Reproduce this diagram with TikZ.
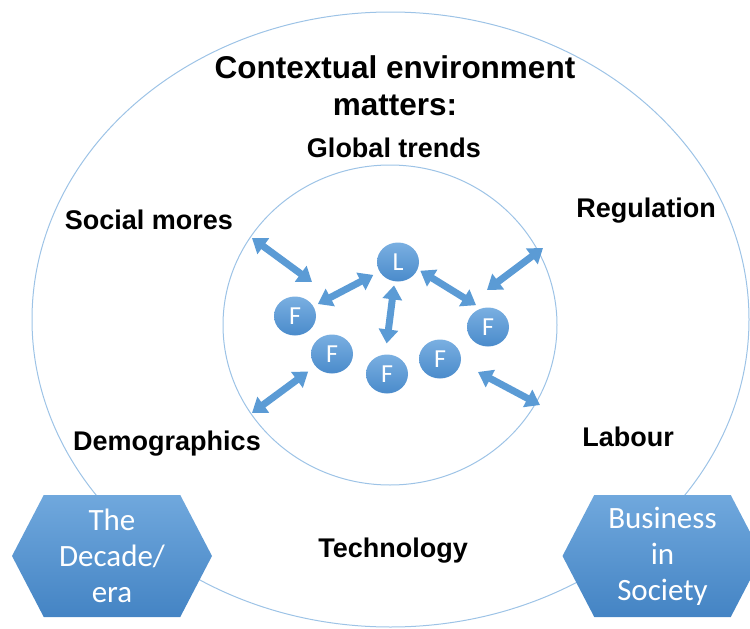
\documentclass[tikz,border=0pt]{standalone}
\usepackage{fontspec}
\setmainfont{Liberation Sans}
\newfontfamily\calfont{Carlito}
\usetikzlibrary{shapes.geometric,shapes.symbols,arrows.meta,positioning}
\definecolor{ringblue}{HTML}{9DC3E6}
\definecolor{linkblue}{HTML}{5B9BD5}
\definecolor{ballhi}{HTML}{7AAFE1}
\definecolor{balllo}{HTML}{4A8BCB}
\definecolor{hexhi}{HTML}{70A8DD}
\definecolor{hexlo}{HTML}{4484C4}

\begin{document}
\begin{tikzpicture}[x=1pt, y=-1pt,
  ring/.style={draw=ringblue, line width=1pt},
  lbl/.style={font=\fontsize{27}{32}\selectfont\bfseries, anchor=base, inner sep=0pt},
  ttl/.style={font=\fontsize{31.5}{37}\selectfont\bfseries, align=center, inner sep=0pt},
  ball/.style={ellipse, minimum width=42pt, minimum height=39pt, inner sep=0pt, top color=ballhi, bottom color=balllo, text=white, font=\calfont\fontsize{26}{28}\selectfont},
  hexa/.style={signal, signal to=east and west, signal pointer angle=125, minimum width=200pt, minimum height=122pt, inner sep=0pt, top color=hexhi, bottom color=hexlo, text=white, align=center, font=\calfont\fontsize{31}{36}\selectfont},
  link/.style={draw=linkblue, line width=7pt, {Triangle[width=19pt,length=14pt]}-{Triangle[width=19pt,length=14pt]}}]
  \clip (0,0) rectangle (750,629);
  \draw[ring] (390.5,319.5) ellipse [x radius=358.5, y radius=307.5];
  \draw[ring] (390,325) ellipse [x radius=167, y radius=160];

  \node[ttl] (title) at (395,86) {Contextual environment\\matters:};
  \node[lbl] (global) at (394,157) {Global trends};
  \node[lbl] (social) at (149,229) {Social mores};
  \node[lbl] (regul) at (646,217) {Regulation};
  \node[lbl] (demog) at (167,450) {Demographics};
  \node[lbl] (labour) at (628,446) {Labour};
  \node[lbl] (techn) at (393,557) {Technology};

  \node[hexa] (decade) at (112,556) {The\\Decade/\\era};
  \node[hexa] (business) at (662.5,556) {Business\\in\\Society};

  \node[ball] (L) at (398,262) {L};
  \node[ball] (F1) at (295,316) {F};
  \node[ball] (F2) at (332,354) {F};
  \node[ball] (F3) at (387,374) {F};
  \node[ball] (F4) at (440,359) {F};
  \node[ball] (F5) at (488,327) {F};

  \coordinate (sm1) at (252,238);
  \coordinate (sm2) at (312,282);
  \coordinate (rg1) at (543,248);
  \coordinate (rg2) at (487,290);
  \coordinate (lb1) at (478,372);
  \coordinate (lb2) at (540,405);
  \coordinate (dm) at (252,413);

  \draw[link] (sm1) -- (sm2);
  \draw[link] (rg1) -- (rg2);
  \draw[link] (lb1) -- (lb2);
  \draw[link, shorten <=9pt] (F2) -- (dm);
  \draw[link, shorten <=7pt, shorten >=5pt] (L) -- (F1);
  \draw[link, shorten <=4pt, shorten >=11pt] (L.-100) -- (F3.95);
  \draw[link, shorten <=3pt, shorten >=6pt] (L.-20) -- (F5.110);
\end{tikzpicture}
\end{document}
